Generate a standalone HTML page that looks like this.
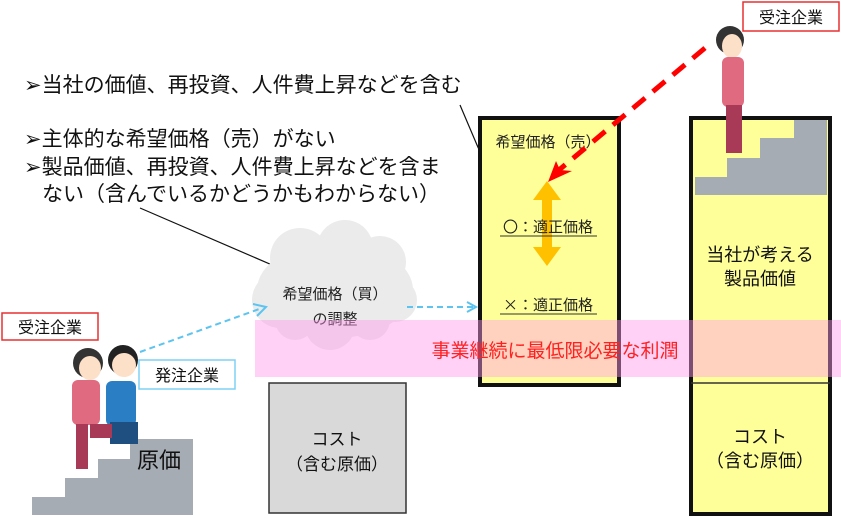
<!DOCTYPE html>
<html><head><meta charset="utf-8"><style>
body{margin:0;background:#fff;}
svg{display:block;font-family:"Noto Sans CJK JP","Liberation Sans",sans-serif;}
</style></head><body>
<svg width="841" height="518" viewBox="0 0 841 518" xmlns="http://www.w3.org/2000/svg">
<g font-size="21" fill="#111">
<text x="24" y="92">➢当社の価値、再投資、人件費上昇などを含む</text>
<text x="24" y="146">➢主体的な希望価格（売）がない</text>
<text x="24" y="174">➢製品価値、再投資、人件費上昇などを含ま</text>
<text x="42" y="201">ない（含んでいるかどうかもわからない）</text>
</g>
<line x1="140" y1="208" x2="286" y2="271" stroke="#111" stroke-width="1.2"/>
<circle cx="286" cy="271" r="3.5" fill="#111"/>
<polyline points="460,105 477,145 489,172" fill="none" stroke="#111" stroke-width="1.2"/>
<circle cx="490" cy="174" r="3.5" fill="#111"/>
<g fill="#ebebeb">
<ellipse cx="335" cy="290" rx="78" ry="48"/>
<circle cx="300" cy="258" r="30"/><circle cx="345" cy="248" r="28"/><circle cx="380" cy="262" r="26"/>
<circle cx="280" cy="300" r="28"/><circle cx="395" cy="300" r="22"/><circle cx="330" cy="325" r="25"/><circle cx="295" cy="320" r="20"/><circle cx="370" cy="320" r="20"/>
</g>
<g font-size="15" fill="#222" text-anchor="middle">
<text x="335" y="299">希望価格（買）</text>
<text x="335" y="324">の調整</text>
</g>
<rect x="269" y="383" width="137" height="130" fill="#d9d9d9" stroke="#333" stroke-width="1.5"/>
<g font-size="17" fill="#111" text-anchor="middle">
<text x="337" y="445">コスト</text>
<text x="337" y="470">（含む原価）</text>
</g>
<rect x="480" y="118" width="139" height="267" fill="#ffff99" stroke="#111" stroke-width="4"/>
<text x="548" y="147" font-size="15" fill="#222" text-anchor="middle">希望価格（売）</text>
<polygon points="547,181 561,200 552,200 552,247 561,247 547,266 533,247 542,247 542,200 533,200" fill="#ffc000"/>
<g font-size="15" fill="#222" text-anchor="middle">
<text x="548" y="232">〇：適正価格</text>
<line x1="500" y1="236" x2="597" y2="236" stroke="#333" stroke-width="1"/>
<text x="548" y="310">×：適正価格</text>
<line x1="500" y1="314" x2="597" y2="314" stroke="#333" stroke-width="1"/>
</g>
<rect x="691" y="118" width="139" height="396" fill="#ffff99" stroke="#111" stroke-width="4"/>
<line x1="691" y1="383" x2="830" y2="383" stroke="#333" stroke-width="1.5"/>
<polygon points="695,177 727,177 727,158 760,158 760,138 794,138 794,120 827,120 827,195 695,195" fill="#a6acb4"/>
<g font-size="18" fill="#111" text-anchor="middle">
<text x="760" y="261">当社が考える</text>
<text x="760" y="285">製品価値</text>
<text x="760" y="443">コスト</text>
<text x="760" y="467">（含む原価）</text>
</g>
<rect x="255" y="320" width="586" height="57" fill="#ff99ee" opacity="0.45"/>
<text x="555" y="357" font-size="19" fill="#ff2020" text-anchor="middle">事業継続に最低限必要な利潤</text>
<line x1="140" y1="352" x2="262" y2="308" stroke="#5bc4f0" stroke-width="2" stroke-dasharray="6,4"/>
<polyline points="253,304 266,307 257,316" fill="none" stroke="#5bc4f0" stroke-width="2"/>
<line x1="407" y1="307" x2="474" y2="307" stroke="#5bc4f0" stroke-width="2" stroke-dasharray="6,4"/>
<polyline points="467,302 476,307 467,312" fill="none" stroke="#5bc4f0" stroke-width="2"/>
<line x1="705" y1="48" x2="553" y2="175" stroke="#ff0000" stroke-width="5" stroke-dasharray="16,10"/>
<polygon points="548,182 556,161 560,170 572,171" fill="#ff0000"/>
<polygon points="32,497 65,497 65,478 98,478 98,459 130,459 130,439 193,439 193,515 32,515" fill="#a6acb4"/>
<text x="137" y="468" font-size="22" fill="#111">原価</text>
<g>
<circle cx="123" cy="360" r="15" fill="#222"/>
<ellipse cx="124" cy="365" rx="12" ry="12" fill="#fce0c8"/>
<rect x="106" y="381" width="30" height="45" rx="6" fill="#2a7fc4"/>
<rect x="110" y="422" width="28" height="22" fill="#1f4f80"/>
<circle cx="88" cy="363" r="15" fill="#333"/>
<ellipse cx="90" cy="368" rx="11" ry="12" fill="#fce0c8"/>
<rect x="72" y="380" width="28" height="45" rx="6" fill="#e06a7f"/>
<rect x="76" y="424" width="12" height="45" fill="#a93a57"/>
<rect x="90" y="424" width="22" height="14" fill="#a93a57"/>
</g>
<g>
<circle cx="730" cy="40" r="14" fill="#333"/>
<ellipse cx="732" cy="46" rx="10" ry="12" fill="#fce0c8"/>
<rect x="722" y="57" width="22" height="50" rx="6" fill="#e06a7f"/>
<rect x="726" y="105" width="16" height="48" fill="#a93a57"/>
</g>
<rect x="2" y="313" width="96" height="27" fill="#fff" stroke="#e83030" stroke-width="1.5"/>
<text x="50" y="333" font-size="16" fill="#111" text-anchor="middle">受注企業</text>
<rect x="139" y="360" width="96" height="29" fill="#fff" stroke="#7fd0f5" stroke-width="1.5"/>
<text x="187" y="381" font-size="16" fill="#111" text-anchor="middle">発注企業</text>
<rect x="743" y="2" width="96" height="29" fill="#fff" stroke="#e83030" stroke-width="1.5"/>
<text x="791" y="23" font-size="16" fill="#111" text-anchor="middle">受注企業</text>
</svg>
</body></html>
